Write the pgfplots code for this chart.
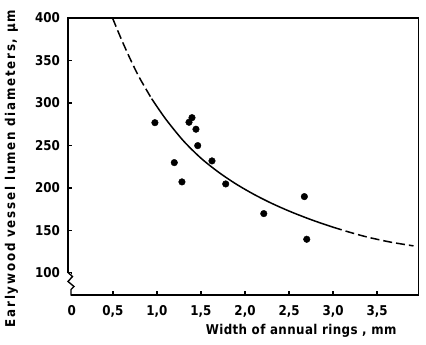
\documentclass[border=0pt]{standalone}
\usepackage{fontspec}
\setmainfont{DejaVu Sans}[FakeStretch=0.88]
\usepackage{pgfplots}
\pgfplotsset{compat=1.18}
\begin{document}
\begin{tikzpicture}
\path[use as bounding box] (0,0) rectangle (426pt,345pt);
\begin{axis}[
  name=ax,
  at={(68pt,50pt)}, anchor=south west,
  width=350.5pt, height=277pt, scale only axis,
  xmin=-0.01, xmax=3.97, ymin=74, ymax=400,
  xtick={0,0.5,1,1.5,2,2.5,3,3.5,4},
  xticklabels={\hspace{6pt}0,{0,5},{1,0},{1,5},{2,0},{2,5},{3,0},{3,5},{4,0}},
  ytick={100,150,200,250,300,350,400},
  yticklabels={100,150,200,250,300,350,400},
  tick pos=left, tick align=inside,
  major tick length=4pt,
  every tick/.style={line width=1.3pt, black},
  axis line style={line width=1.4pt},
  ticklabel style={font=\fontsize{13.5}{16}\selectfont\bfseries, inner sep=0pt},
  xticklabel style={anchor=north, yshift=-10pt},
  yticklabel style={anchor=east, xshift=-8pt},
  label style={font=\fontsize{13.5}{16}\selectfont\bfseries},
  xlabel={\addfontfeatures{LetterSpace=3}Width of annual rings , mm},
  ylabel={\addfontfeatures{LetterSpace=13}Earlywood vessel lumen diameters, µm},
  xlabel style={at={(rel axis cs:0.665,-0.130)}, anchor=center},
  ylabel style={at={(rel axis cs:-0.161,0.457)}, anchor=center},
  clip=false,
]
\addplot[only marks, mark=*, mark size=3.3pt, black] coordinates {
  (0.977,276.8) (1.364,277.3) (1.398,282.7) (1.443,269.1) (1.463,249.8)
  (1.197,229.8) (1.284,207.1) (1.625,231.8) (1.781,204.7) (2.213,169.8)
  (2.674,189.8) (2.701,139.6)};
\addplot[black, line width=1.5pt, smooth, dash pattern=on 9pt off 4pt] coordinates {
  (0.497,399.6) (0.60,374) (0.70,351) (0.80,330) (0.94,305)};
\addplot[black, line width=1.5pt, smooth] coordinates {
  (0.94,305) (1.10,281) (1.30,255.5) (1.50,235) (1.70,218.5) (1.90,204.5)
  (2.10,192.5) (2.30,182) (2.50,172.8) (2.70,164.6) (2.85,159) (3.00,153.8)};
\addplot[black, line width=1.5pt, smooth, dash pattern=on 9pt off 4pt] coordinates {
  (3.00,153.8) (3.20,147.5) (3.40,141.9) (3.65,136.3) (3.913,131.8)};
\end{axis}
\fill[white] ([xshift=-3pt,yshift=-1.5pt]ax.south west) rectangle ([xshift=3pt,yshift=22pt]ax.south west);
\draw[line width=1.4pt, line join=miter] ([yshift=22.5pt]ax.south west) -- ++(4.5pt,-4pt) -- ++(-4.5pt,-5pt) -- ++(6pt,-5pt) -- ++(-3pt,-3pt) -- ++(0,-5.5pt) -- ++(6pt,0);
\end{tikzpicture}
\end{document}
